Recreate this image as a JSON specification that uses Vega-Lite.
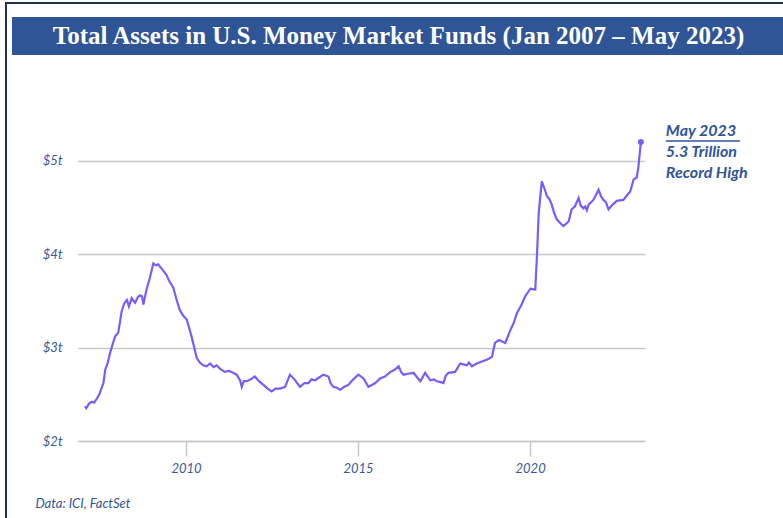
{
  "$schema": "https://vega.github.io/schema/vega-lite/v6.json",
  "padding": {"left": 5, "top": 2, "right": 0, "bottom": 0},
  "background": "white",
  "spacing": 0,
  "config": {
    "view": {"stroke": null},
    "font": "Lato"
  },
  "datasets": {
    "mmf": [
      {"year": 2007.06, "assets": 2.37},
      {"year": 2007.10, "assets": 2.35},
      {"year": 2007.18, "assets": 2.40},
      {"year": 2007.26, "assets": 2.42},
      {"year": 2007.33, "assets": 2.41},
      {"year": 2007.42, "assets": 2.46},
      {"year": 2007.48, "assets": 2.50},
      {"year": 2007.54, "assets": 2.56},
      {"year": 2007.60, "assets": 2.62},
      {"year": 2007.65, "assets": 2.76},
      {"year": 2007.72, "assets": 2.83},
      {"year": 2007.79, "assets": 2.94},
      {"year": 2007.87, "assets": 3.04},
      {"year": 2007.94, "assets": 3.12},
      {"year": 2008.03, "assets": 3.16},
      {"year": 2008.13, "assets": 3.39},
      {"year": 2008.20, "assets": 3.47},
      {"year": 2008.28, "assets": 3.51},
      {"year": 2008.34, "assets": 3.44},
      {"year": 2008.42, "assets": 3.53},
      {"year": 2008.47, "assets": 3.50},
      {"year": 2008.52, "assets": 3.48},
      {"year": 2008.60, "assets": 3.54},
      {"year": 2008.66, "assets": 3.56},
      {"year": 2008.72, "assets": 3.55},
      {"year": 2008.76, "assets": 3.46},
      {"year": 2008.85, "assets": 3.62},
      {"year": 2008.95, "assets": 3.75},
      {"year": 2009.05, "assets": 3.90},
      {"year": 2009.12, "assets": 3.88},
      {"year": 2009.19, "assets": 3.89},
      {"year": 2009.30, "assets": 3.84},
      {"year": 2009.43, "assets": 3.78},
      {"year": 2009.50, "assets": 3.72},
      {"year": 2009.63, "assets": 3.64},
      {"year": 2009.72, "assets": 3.52},
      {"year": 2009.82, "assets": 3.40},
      {"year": 2009.92, "assets": 3.34},
      {"year": 2010.02, "assets": 3.30},
      {"year": 2010.16, "assets": 3.12},
      {"year": 2010.31, "assets": 2.89},
      {"year": 2010.40, "assets": 2.84},
      {"year": 2010.50, "assets": 2.81},
      {"year": 2010.60, "assets": 2.80},
      {"year": 2010.70, "assets": 2.83},
      {"year": 2010.80, "assets": 2.79},
      {"year": 2010.89, "assets": 2.81},
      {"year": 2011.00, "assets": 2.77},
      {"year": 2011.13, "assets": 2.74},
      {"year": 2011.25, "assets": 2.75},
      {"year": 2011.37, "assets": 2.73},
      {"year": 2011.47, "assets": 2.71},
      {"year": 2011.57, "assets": 2.65},
      {"year": 2011.62, "assets": 2.58},
      {"year": 2011.68, "assets": 2.64},
      {"year": 2011.76, "assets": 2.64},
      {"year": 2011.88, "assets": 2.66},
      {"year": 2012.00, "assets": 2.69},
      {"year": 2012.12, "assets": 2.64},
      {"year": 2012.25, "assets": 2.60},
      {"year": 2012.37, "assets": 2.56},
      {"year": 2012.49, "assets": 2.53},
      {"year": 2012.60, "assets": 2.56},
      {"year": 2012.73, "assets": 2.56},
      {"year": 2012.88, "assets": 2.58},
      {"year": 2013.02, "assets": 2.71},
      {"year": 2013.15, "assets": 2.66},
      {"year": 2013.31, "assets": 2.58},
      {"year": 2013.44, "assets": 2.62},
      {"year": 2013.56, "assets": 2.62},
      {"year": 2013.65, "assets": 2.66},
      {"year": 2013.75, "assets": 2.65},
      {"year": 2013.87, "assets": 2.68},
      {"year": 2013.99, "assets": 2.71},
      {"year": 2014.14, "assets": 2.69},
      {"year": 2014.20, "assets": 2.62},
      {"year": 2014.28, "assets": 2.58},
      {"year": 2014.38, "assets": 2.57},
      {"year": 2014.48, "assets": 2.55},
      {"year": 2014.60, "assets": 2.58},
      {"year": 2014.72, "assets": 2.60},
      {"year": 2014.86, "assets": 2.66},
      {"year": 2015.01, "assets": 2.71},
      {"year": 2015.16, "assets": 2.67},
      {"year": 2015.30, "assets": 2.58},
      {"year": 2015.40, "assets": 2.60},
      {"year": 2015.50, "assets": 2.62},
      {"year": 2015.64, "assets": 2.67},
      {"year": 2015.78, "assets": 2.69},
      {"year": 2015.94, "assets": 2.74},
      {"year": 2016.05, "assets": 2.76},
      {"year": 2016.18, "assets": 2.80},
      {"year": 2016.25, "assets": 2.74},
      {"year": 2016.32, "assets": 2.71},
      {"year": 2016.45, "assets": 2.72},
      {"year": 2016.61, "assets": 2.73},
      {"year": 2016.72, "assets": 2.68},
      {"year": 2016.81, "assets": 2.64},
      {"year": 2016.95, "assets": 2.73},
      {"year": 2017.10, "assets": 2.65},
      {"year": 2017.20, "assets": 2.66},
      {"year": 2017.29, "assets": 2.64},
      {"year": 2017.40, "assets": 2.63},
      {"year": 2017.48, "assets": 2.62},
      {"year": 2017.55, "assets": 2.70},
      {"year": 2017.63, "assets": 2.73},
      {"year": 2017.82, "assets": 2.74},
      {"year": 2017.97, "assets": 2.83},
      {"year": 2018.06, "assets": 2.82},
      {"year": 2018.16, "assets": 2.81},
      {"year": 2018.22, "assets": 2.84},
      {"year": 2018.31, "assets": 2.80},
      {"year": 2018.45, "assets": 2.83},
      {"year": 2018.60, "assets": 2.85},
      {"year": 2018.74, "assets": 2.87},
      {"year": 2018.89, "assets": 2.90},
      {"year": 2018.98, "assets": 3.05},
      {"year": 2019.10, "assets": 3.08},
      {"year": 2019.22, "assets": 3.06},
      {"year": 2019.28, "assets": 3.05},
      {"year": 2019.43, "assets": 3.19},
      {"year": 2019.52, "assets": 3.26},
      {"year": 2019.62, "assets": 3.37},
      {"year": 2019.74, "assets": 3.45},
      {"year": 2019.86, "assets": 3.55},
      {"year": 2020.01, "assets": 3.63},
      {"year": 2020.15, "assets": 3.62},
      {"year": 2020.20, "assets": 3.98},
      {"year": 2020.25, "assets": 4.44},
      {"year": 2020.34, "assets": 4.78},
      {"year": 2020.42, "assets": 4.70},
      {"year": 2020.49, "assets": 4.62},
      {"year": 2020.56, "assets": 4.59},
      {"year": 2020.63, "assets": 4.53},
      {"year": 2020.70, "assets": 4.44},
      {"year": 2020.78, "assets": 4.37},
      {"year": 2020.88, "assets": 4.33},
      {"year": 2020.97, "assets": 4.30},
      {"year": 2021.12, "assets": 4.35},
      {"year": 2021.21, "assets": 4.48},
      {"year": 2021.30, "assets": 4.51},
      {"year": 2021.41, "assets": 4.60},
      {"year": 2021.47, "assets": 4.52},
      {"year": 2021.55, "assets": 4.49},
      {"year": 2021.60, "assets": 4.51},
      {"year": 2021.65, "assets": 4.47},
      {"year": 2021.70, "assets": 4.53},
      {"year": 2021.84, "assets": 4.58},
      {"year": 2021.99, "assets": 4.69},
      {"year": 2022.06, "assets": 4.62},
      {"year": 2022.13, "assets": 4.58},
      {"year": 2022.20, "assets": 4.56},
      {"year": 2022.28, "assets": 4.48},
      {"year": 2022.40, "assets": 4.53},
      {"year": 2022.52, "assets": 4.57},
      {"year": 2022.71, "assets": 4.58},
      {"year": 2022.91, "assets": 4.67},
      {"year": 2023.01, "assets": 4.80},
      {"year": 2023.10, "assets": 4.82},
      {"year": 2023.15, "assets": 4.94},
      {"year": 2023.22, "assets": 5.20}
    ],
    "header": [
      {"title": "Total Assets in U.S. Money Market Funds (Jan 2007 – May 2023)"}
    ],
    "empty": []
  },
  "vconcat": [
    {
      "width": 778,
      "height": 2,
      "view": {"fill": "#1F3050", "stroke": null},
      "data": {"name": "empty"},
      "mark": {"type": "point", "opacity": 0}
    },
    {
      "spacing": 5,
      "hconcat": [
        {
          "width": 2,
          "height": 514,
          "view": {"fill": "#1F3050", "stroke": null},
          "data": {"name": "empty"},
          "mark": {"type": "point", "opacity": 0}
        },
        {
          "spacing": 0,
          "vconcat": [
            {
              "width": 771,
              "height": 13,
              "data": {"name": "empty"},
              "mark": {"type": "point", "opacity": 0}
            },
            {
              "spacing": 59,
              "vconcat": [
                {
                  "width": 771,
                  "height": 38,
                  "view": {"fill": "#2F5597", "stroke": null},
                  "data": {"name": "header"},
                  "mark": {
                    "type": "text",
                    "font": "Liberation Serif",
                    "fontSize": 25,
                    "fontWeight": "bold",
                    "color": "white",
                    "align": "center",
                    "baseline": "alphabetic",
                    "dx": 1,
                    "dy": 8
                  },
                  "encoding": {"text": {"field": "title"}}
                },
                {
                  "bounds": "flush",
                  "spacing": 0,
                  "hconcat": [
                    {
                      "width": 66,
                      "height": 327,
                      "data": {"name": "empty"},
                      "mark": {"type": "point", "opacity": 0}
                    },
                    {
                      "width": 567,
                      "height": 327,
                      "data": {"name": "mmf"},
                      "encoding": {
                        "x": {
                          "field": "year",
                          "type": "quantitative",
                          "scale": {"domain": [2006.86, 2023.34], "nice": false, "zero": false},
                          "axis": {
                            "values": [2010, 2015, 2020],
                            "format": "d",
                            "grid": false,
                            "domainColor": "#C8C8C8",
                            "domainWidth": 1.5,
                            "tickColor": "#C8C8C8",
                            "tickWidth": 1.5,
                            "tickSize": 15,
                            "labelPadding": 6,
                            "labelFont": "Lato",
                            "labelFontStyle": "italic",
                            "labelFontSize": 13,
                            "labelColor": "#3A5898",
                            "title": "Data: ICI, FactSet",
                            "titleFont": "Lato",
                            "titleFontStyle": "italic",
                            "titleFontWeight": "normal",
                            "titleFontSize": 13,
                            "titleColor": "#2F5597",
                            "titleAnchor": "start",
                            "titleAlign": "left",
                            "titleBaseline": "top",
                            "titleX": -43,
                            "titleY": 56
                          }
                        },
                        "y": {
                          "field": "assets",
                          "type": "quantitative",
                          "scale": {"domain": [2, 5.5], "nice": false, "zero": false},
                          "axis": {
                            "values": [2, 3, 4, 5],
                            "labelExpr": "'$' + datum.value + 't'",
                            "domain": false,
                            "ticks": false,
                            "tickSize": 0,
                            "grid": true,
                            "gridColor": "#C8C8C8",
                            "gridWidth": 1.5,
                            "labelPadding": 16,
                            "labelFont": "Lato",
                            "labelFontStyle": "italic",
                            "labelFontSize": 13,
                            "labelColor": "#3A5898",
                            "title": null
                          }
                        }
                      },
                      "layer": [
                        {
                          "mark": {"type": "line", "color": "#7A5CFA", "strokeWidth": 2.2, "interpolate": "linear"}
                        },
                        {
                          "transform": [{"filter": "datum.year >= 2023.2"}],
                          "mark": {"type": "point", "filled": true, "color": "#7A5CFA", "size": 36, "opacity": 1}
                        },
                        {
                          "transform": [{"filter": "datum.year >= 2023.2"}],
                          "mark": {
                            "type": "text",
                            "align": "left",
                            "baseline": "alphabetic",
                            "dx": 25,
                            "dy": -6,
                            "lineHeight": 21,
                            "font": "Lato",
                            "fontSize": 16,
                            "fontWeight": "bold",
                            "fontStyle": "italic",
                            "color": "#2F5597"
                          },
                          "encoding": {
                            "text": {"value": ["May 2023", "5.3 Trillion", "Record High"]}
                          }
                        },
                        {
                          "transform": [{"filter": "datum.year >= 2023.2"}],
                          "mark": {
                            "type": "rule",
                            "color": "#2F5597",
                            "strokeWidth": 1.5,
                            "xOffset": 25,
                            "x2Offset": 99,
                            "yOffset": -1
                          },
                          "encoding": {
                            "x2": {"field": "year"}
                          }
                        }
                      ]
                    }
                  ]
                }
              ]
            }
          ]
        }
      ]
    }
  ]
}
